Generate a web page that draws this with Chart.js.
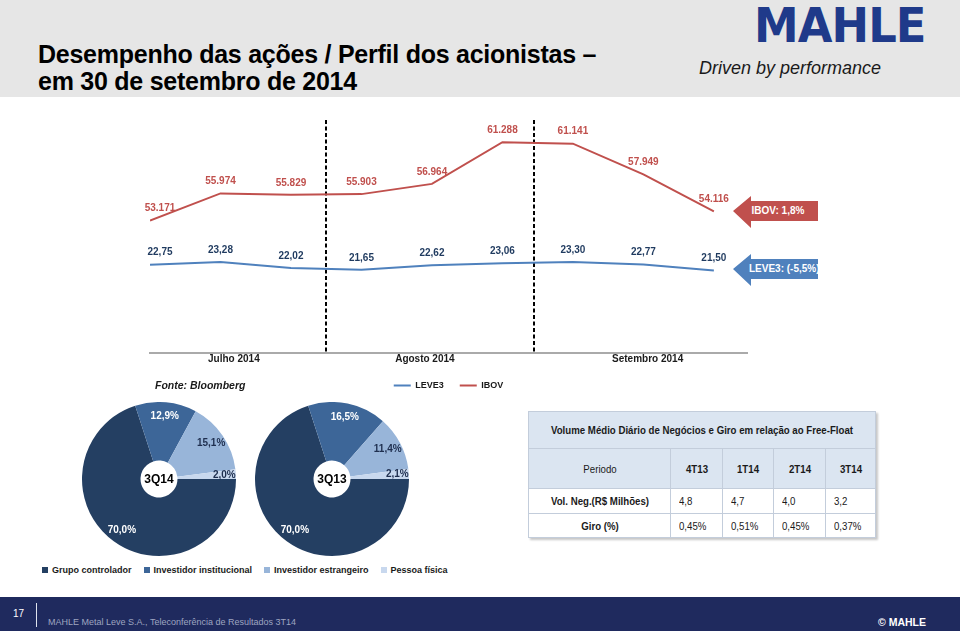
<!DOCTYPE html>
<html>
<head>
<meta charset="utf-8">
<script src="https://cdn.jsdelivr.net/npm/chart.js@4.4.1/dist/chart.umd.min.js"></script>
<style>
  html, body { margin: 0; padding: 0; }
  body {
    width: 960px; height: 631px; position: relative; overflow: hidden;
    background: #fff; font-family: 'Liberation Sans', Arial, sans-serif;
  }
  .abs { position: absolute; }
  #header { left: 0; top: 0; width: 960px; height: 97px; background: #e6e6e6; }
  #title {
    left: 38px; top: 41px; font-weight: bold; font-size: 25px; line-height: 27.4px;
    letter-spacing: -0.25px; color: #000; white-space: nowrap;
  }
  #logo {
    left: 754px; top: 1px; font-family: 'DejaVu Sans', sans-serif; font-weight: bold;
    font-size: 48px; line-height: 48px; color: #1f3a8a; letter-spacing: -1px;
    transform-origin: left top; transform: scaleX(0.935);
  }
  #tagline {
    left: 699px; top: 58px; font-style: italic; font-size: 18px; line-height: 20px;
    color: #1a1a1a; white-space: nowrap;
  }
  #lineWrap { left: 130px; top: 110px; width: 640px; height: 290px; }
  .arrow { width: 85px; height: 32px; left: 733px;
    clip-path: polygon(0 15px, 18px 0, 18px 5px, 85px 5px, 85px 25px, 18px 25px, 18px 32px); }
  .arrow span { position: absolute; left: 16px; width: 58px; top: 5px; height: 20px; line-height: 20px;
    text-align: center; color: #fff; font-weight: bold; font-size: 10px; white-space: nowrap; }
  #arrIbov { top: 196px; background: #c0504d; }
  #arrLeve { top: 254px; background: #4f81bd; }
  #fonte { left: 155px; top: 379px; font-weight: bold; font-style: italic; font-size: 10.5px; color: #1a1a1a; }
  #pie1 { left: 82px; top: 402px; }
  #pie2 { left: 255px; top: 402px; }
  #pieLegend { left: 42px; top: 565px; display: flex; gap: 12px; font-weight: bold; font-size: 9px;
    color: #1a1a1a; white-space: nowrap; }
  #pieLegend i { display: inline-block; width: 6px; height: 6px; margin-right: 4px; vertical-align: 0; }
  #tbl { left: 528px; top: 411px; width: 347px; border-collapse: collapse; table-layout: fixed;
    font-size: 11.5px; color: #1a1a1a; box-shadow: 2px 2px 2px #c8c8c8; }
  #tbl td { border: 1px solid #c3cddb; padding: 0 0 0 8px; white-space: nowrap; }
  #tbl td.c { padding: 0; }
  #tbl td.b { font-weight: bold; }
  #tbl .blue td { background: #dbe5f1; }
  #tbl span { display: inline-block; transform: scaleX(0.84); transform-origin: left center; }
  #tbl td.c span { display: block; width: max-content; position: relative; left: 50%;
    transform: translateX(-50%) scaleX(0.84); transform-origin: center; }
  #footer { left: 0; top: 597px; width: 960px; height: 34px; background: #1f2a5e; }
  #pageNo { left: 13px; top: 608px; color: #fff; font-size: 10px; }
  #sep { left: 36px; top: 603px; width: 1px; height: 24px; background: #dfe3ee; }
  #footText { left: 48px; top: 617px; color: #9ea5c0; font-size: 9px; white-space: nowrap; }
  #copy { left: 878px; top: 616px; color: #fff; font-weight: bold; font-size: 10.5px; white-space: nowrap; }
</style>
</head>
<body>
<div id="header" class="abs"></div>
<div id="title" class="abs">Desempenho das ações / Perfil dos acionistas –<br>em 30 de setembro de 2014</div>
<div id="logo" class="abs">MAHLE</div>
<div id="tagline" class="abs">Driven by performance</div>

<div id="lineWrap" class="abs"><canvas id="lineChart" width="640" height="290"></canvas></div>
<div id="arrIbov" class="abs arrow"><span>IBOV: 1,8%</span></div>
<div id="arrLeve" class="abs arrow"><span>LEVE3: (-5,5%)</span></div>
<div id="fonte" class="abs">Fonte: Bloomberg</div>

<canvas id="pie1" class="abs" width="154" height="154"></canvas>
<canvas id="pie2" class="abs" width="154" height="154"></canvas>
<div id="pieLegend" class="abs"></div>

<table id="tbl" class="abs"></table>

<div id="footer" class="abs"></div>
<div id="pageNo" class="abs">17</div>
<div id="sep" class="abs"></div>
<div id="footText" class="abs">MAHLE Metal Leve S.A., Teleconferência de Resultados 3T14</div>
<div id="copy" class="abs">© MAHLE</div>

<script>
  // ── Data ────────────────────────────────────────────────────────────────
  // Nine sample dates across Jul–Sep 2014 (x = point index)
  const ibovValues  = [53171, 55974, 55829, 55903, 56964, 61288, 61141, 57949, 54116];
  const leve3Values = [22.75, 23.28, 22.02, 21.65, 22.62, 23.06, 23.30, 22.77, 21.50];
  const monthLabels = ['Julho 2014', 'Agosto 2014', 'Setembro 2014'];
  const monthTickPos = [1.19, 3.9, 7.06];     // label centres, in point-index units
  const monthBreaks  = [2.5, 5.45];           // dashed month separators

  const pieCategories = ['Grupo controlador', 'Investidor institucional', 'Investidor estrangeiro', 'Pessoa física'];
  const pie3Q14 = [70.0, 12.9, 15.1, 2.0];
  const pie3Q13 = [70.0, 16.5, 11.4, 2.1];

  const tableTitle   = 'Volume Médio Diário de Negócios e Giro em relação ao Free-Float';
  const tablePeriods = ['4T13', '1T14', '2T14', '3T14'];
  const tableVolNeg  = ['4,8', '4,7', '4,0', '3,2'];
  const tableGiro    = ['0,45%', '0,51%', '0,45%', '0,37%'];

  // ── Colours ─────────────────────────────────────────────────────────────
  const RED       = '#c0504d';
  const BLUE      = '#4f81bd';
  const NAVY_TXT  = '#1f3a5f';
  const PIE_COLS  = ['#243f62', '#3d6698', '#98b5d9', '#c8d8ee'];
  const PIE_TXT   = ['#ffffff', '#ffffff', '#1f2f4f', '#1f2f4f'];
  const FONT      = '"Liberation Sans", Arial, sans-serif';

  const fmtIbov  = v => v.toLocaleString('pt-BR');
  const fmtLeve  = v => v.toFixed(2).replace('.', ',');
  const fmtPct   = v => v.toFixed(1).replace('.', ',') + '%';

  // ── Line chart plugins ──────────────────────────────────────────────────
  const dividerPlugin = {
    id: 'dividers',
    beforeDatasetsDraw(chart) {
      const { ctx, chartArea, scales: { x } } = chart;
      ctx.save();
      ctx.strokeStyle = '#000';
      ctx.lineWidth = 2;
      ctx.setLineDash([4, 2.5]);
      monthBreaks.forEach(v => {
        const px = Math.round(x.getPixelForValue(v));
        ctx.beginPath();
        ctx.moveTo(px, chartArea.top + 2);
        ctx.lineTo(px, chartArea.bottom);
        ctx.stroke();
      });
      ctx.restore();
    },
  };

  const formatters = { IBOV: fmtIbov, LEVE3: fmtLeve };
  const labelColours = { IBOV: RED, LEVE3: NAVY_TXT };

  const pointLabelPlugin = {
    id: 'pointLabels',
    afterDatasetsDraw(chart) {
      const ctx = chart.ctx;
      ctx.save();
      ctx.font = 'bold 10px ' + FONT;
      ctx.textAlign = 'center';
      ctx.textBaseline = 'middle';
      chart.data.datasets.forEach((ds, di) => {
        const meta = chart.getDatasetMeta(di);
        ctx.fillStyle = labelColours[ds.label];
        meta.data.forEach((pt, i) => {
          const dx = i === 0 ? 10 : 0;
          ctx.fillText(formatters[ds.label](ds.data[i].y), pt.x + dx, pt.y - 12);
        });
      });
      ctx.restore();
    },
  };

  new Chart(document.getElementById('lineChart'), {
    type: 'line',
    data: {
      datasets: [
        {
          label: 'LEVE3',
          data: leve3Values.map((v, i) => ({ x: i, y: v })),
          borderColor: BLUE, backgroundColor: BLUE,
          borderWidth: 2, pointRadius: 0, tension: 0, yAxisID: 'yLeve',
        },
        {
          label: 'IBOV',
          data: ibovValues.map((v, i) => ({ x: i, y: v })),
          borderColor: RED, backgroundColor: RED,
          borderWidth: 2, pointRadius: 0, tension: 0, yAxisID: 'yIbov',
        },
      ],
    },
    options: {
      responsive: false,
      animation: false,
      layout: { padding: { left: 20, right: 23, top: 8, bottom: 0 } },
      plugins: {
        tooltip: { enabled: false },
        legend: {
          position: 'bottom',
          labels: {
            usePointStyle: true, pointStyle: 'line', pointStyleWidth: 17,
            padding: 16, color: '#1a1a1a',
            font: { family: FONT, size: 9, weight: 'bold' },
          },
        },
      },
      scales: {
        x: {
          type: 'linear', min: 0, max: 8.47,
          afterBuildTicks: axis => { axis.ticks = monthTickPos.map(v => ({ value: v })); },
          grid: { display: false, drawTicks: false },
          border: { display: true, color: '#aaaaaa', width: 2 },
          ticks: {
            autoSkip: false, maxRotation: 0, padding: 0, color: '#1a1a1a',
            font: { family: FONT, size: 10, weight: 'bold' },
            callback: (v, i) => monthLabels[i],
          },
        },
        yIbov: { display: false, min: 39420, max: 63800 },
        yLeve: { display: false, min: 4.03, max: 53.81 },
      },
    },
    plugins: [dividerPlugin, pointLabelPlugin],
  });

  // ── Pie charts ──────────────────────────────────────────────────────────
  const pieLabelPlugin = {
    id: 'pieLabels',
    afterDatasetsDraw(chart, args, opts) {
      const ctx = chart.ctx;
      const meta = chart.getDatasetMeta(0);
      const vals = chart.data.datasets[0].data;
      ctx.save();
      ctx.textAlign = 'center';
      ctx.textBaseline = 'middle';
      ctx.font = 'bold 10px ' + FONT;
      meta.data.forEach((arc, i) => {
        const p = arc.getProps(['x', 'y', 'startAngle', 'endAngle', 'outerRadius'], true);
        const mid = (p.startAngle + p.endAngle) / 2;
        const r = p.outerRadius * (vals[i] < 5 ? 0.85 : 0.82);
        ctx.fillStyle = PIE_TXT[i];
        ctx.fillText(fmtPct(vals[i]), p.x + Math.cos(mid) * r, p.y + Math.sin(mid) * r);
      });
      const c = meta.data[0];
      ctx.font = 'bold 12px ' + FONT;
      ctx.fillStyle = '#000';
      ctx.fillText(opts.text, c.x, c.y + 1);
      ctx.restore();
    },
  };

  function makePie(id, values, centreText) {
    new Chart(document.getElementById(id), {
      type: 'doughnut',
      data: {
        labels: pieCategories,
        datasets: [{ data: values, backgroundColor: PIE_COLS, borderWidth: 0 }],
      },
      options: {
        responsive: false,
        animation: false,
        rotation: 90,
        cutout: '24%',
        layout: { padding: 0 },
        plugins: {
          legend: { display: false },
          tooltip: { enabled: false },
          pieLabels: { text: centreText },
        },
      },
      plugins: [pieLabelPlugin],
    });
  }
  makePie('pie1', pie3Q14, '3Q14');
  makePie('pie2', pie3Q13, '3Q13');

  // Shared legend beneath both pies
  document.getElementById('pieLegend').innerHTML = pieCategories
    .map((c, i) => `<span><i style="background:${PIE_COLS[i]}"></i>${c}</span>`).join('');

  // ── Table ───────────────────────────────────────────────────────────────
  const tbl = document.getElementById('tbl');
  const colW = [142, 52, 51, 52, 50];
  const cell = (txt, cls) => `<td class="${cls}"><span>${txt}</span></td>`;
  tbl.innerHTML =
    '<colgroup>' + colW.map(w => `<col style="width:${w}px">`).join('') + '</colgroup>' +
    `<tr class="blue" style="height:37px"><td colspan="5" class="c b"><span>${tableTitle}</span></td></tr>` +
    '<tr class="blue" style="height:40px">' + cell('Periodo', 'c') +
      tablePeriods.map(p => cell(p, 'c b')).join('') + '</tr>' +
    '<tr style="height:25px">' + cell('Vol. Neg.(R$ Milhões)', 'c b') +
      tableVolNeg.map(v => cell(v, '')).join('') + '</tr>' +
    '<tr style="height:24px">' + cell('Giro (%)', 'c b') +
      tableGiro.map(v => cell(v, '')).join('') + '</tr>';
</script>
</body>
</html>
